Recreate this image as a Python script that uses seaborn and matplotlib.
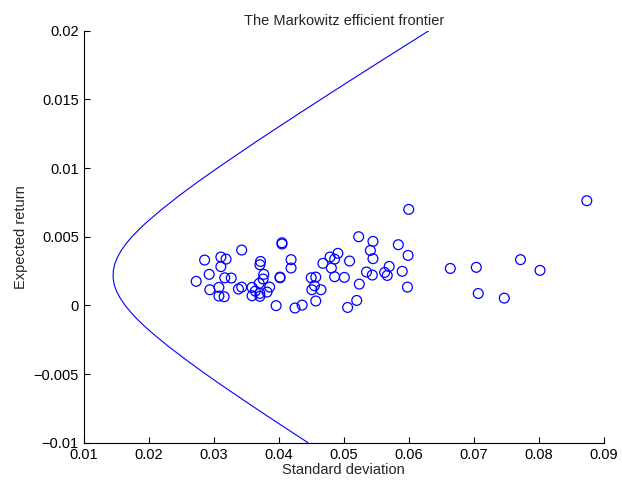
import matplotlib
matplotlib.use('Agg')
import matplotlib.pyplot as plt
import seaborn as sns
import pandas as pd

# efficient frontier (expected return -> std dev)
frontier_ret = [-0.010, -0.009, -0.008, -0.007, -0.006, -0.005, -0.004, -0.003, -0.002,
                -0.0015, -0.001, -0.0005, 0.0, 0.0005, 0.001, 0.0015, 0.002, 0.0025,
                0.003, 0.0035, 0.004, 0.0045, 0.005, 0.0055, 0.006, 0.007, 0.008,
                0.009, 0.010, 0.012, 0.014, 0.016, 0.018, 0.020]
frontier_sd = [0.04451, 0.04128, 0.03806, 0.03491, 0.03179, 0.02876, 0.02584, 0.02307, 0.02050,
               0.01931, 0.01822, 0.01724, 0.01637, 0.01565, 0.01508, 0.01469, 0.01452, 0.01455,
               0.01476, 0.01518, 0.01577, 0.01652, 0.01742, 0.01844, 0.01955, 0.02203, 0.02471,
               0.02757, 0.03057, 0.03678, 0.04321, 0.04976, 0.05640, 0.06309]

# individual assets
asset_sd = [0.0600, 0.0523, 0.0545, 0.0584, 0.0405, 0.0405, 0.0343, 0.0541, 0.0491, 0.0599,
            0.0286, 0.0311, 0.0319, 0.0372, 0.0371, 0.0419, 0.0419, 0.0479, 0.0486, 0.0468,
            0.0481, 0.0509, 0.0545, 0.0311, 0.0293, 0.0273, 0.0317, 0.0327, 0.0377, 0.0376,
            0.0402, 0.0402, 0.0450, 0.0457, 0.0486, 0.0501, 0.0535, 0.0544, 0.0563, 0.0570,
            0.0567, 0.0590, 0.0598, 0.0524, 0.0520, 0.0506, 0.0457, 0.0465, 0.0451, 0.0455,
            0.0436, 0.0425, 0.0396, 0.0308, 0.0294, 0.0308, 0.0316, 0.0338, 0.0343, 0.0359,
            0.0359, 0.0364, 0.0371, 0.0370, 0.0382, 0.0386, 0.0371, 0.0664, 0.0704, 0.0707,
            0.0874, 0.0772, 0.0802, 0.0747]
asset_ret = [0.00699, 0.00500, 0.00466, 0.00442, 0.00456, 0.00447, 0.00403, 0.00400, 0.00379, 0.00364,
             0.00330, 0.00352, 0.00337, 0.00320, 0.00296, 0.00333, 0.00272, 0.00352, 0.00337, 0.00306,
             0.00272, 0.00323, 0.00340, 0.00282, 0.00226, 0.00175, 0.00201, 0.00199, 0.00226, 0.00192,
             0.00206, 0.00201, 0.00201, 0.00206, 0.00209, 0.00204, 0.00243, 0.00221, 0.00240, 0.00284,
             0.00218, 0.00248, 0.00133, 0.00155, 0.00036, -0.00015, 0.00032, 0.00114, 0.00114, 0.00143,
             0.00002, -0.00019, -0.00002, 0.00131, 0.00114, 0.00068, 0.00063, 0.00119, 0.00133, 0.00131,
             0.00070, 0.00104, 0.00066, 0.00160, 0.00097, 0.00133, 0.00087, 0.00269, 0.00277, 0.00087,
             0.00762, 0.00333, 0.00255, 0.00053]

x_ticks = [0.01, 0.02, 0.03, 0.04, 0.05, 0.06, 0.07, 0.08, 0.09]
x_tick_labels = ['0.01', '0.02', '0.03', '0.04', '0.05', '0.06', '0.07', '0.08', '0.09']
y_ticks = [-0.01, -0.005, 0, 0.005, 0.01, 0.015, 0.02]
y_tick_labels = ['\u22120.01', '\u22120.005', '0', '0.005', '0.01', '0.015', '0.02']

sns.set_style('ticks')
plt.rcParams['font.family'] = ['Liberation Sans', 'DejaVu Sans']
plt.rcParams['xtick.direction'] = 'in'
plt.rcParams['ytick.direction'] = 'in'

df_front = pd.DataFrame({'sd': frontier_sd, 'ret': frontier_ret})
df_assets = pd.DataFrame({'sd': asset_sd, 'ret': asset_ret})

fig = plt.figure(figsize=(6.22, 4.83), dpi=100)
ax = fig.add_axes([0.1346, 0.0834, 0.836, 0.853])

sns.lineplot(data=df_front, x='sd', y='ret', sort=False, estimator=None,
             color='#0000ff', linewidth=0.8, ax=ax)
sns.scatterplot(data=df_assets, x='sd', y='ret', marker='o', s=50,
                facecolors='none', edgecolor='#0000ff', linewidth=0.9, ax=ax)

ax.set_xlim(0.01, 0.09)
ax.set_ylim(-0.01, 0.02)
ax.set_xticks(x_ticks)
ax.set_xticklabels(x_tick_labels)
ax.set_yticks(y_ticks)
ax.set_yticklabels(y_tick_labels)
ax.tick_params(labelsize=10.5, length=4, width=0.8, colors='black')
for side in ['top', 'right']:
    ax.spines[side].set_visible(False)
for side in ['left', 'bottom']:
    ax.spines[side].set_linewidth(0.8)
    ax.spines[side].set_color('black')

ax.set_xlabel('Standard deviation', fontsize=10.5, labelpad=1)
ax.set_ylabel('Expected return', fontsize=10.5, labelpad=4)
ax.set_title('The Markowitz efficient frontier', fontsize=10.5, pad=4)

fig.savefig('out.png', dpi=100)
